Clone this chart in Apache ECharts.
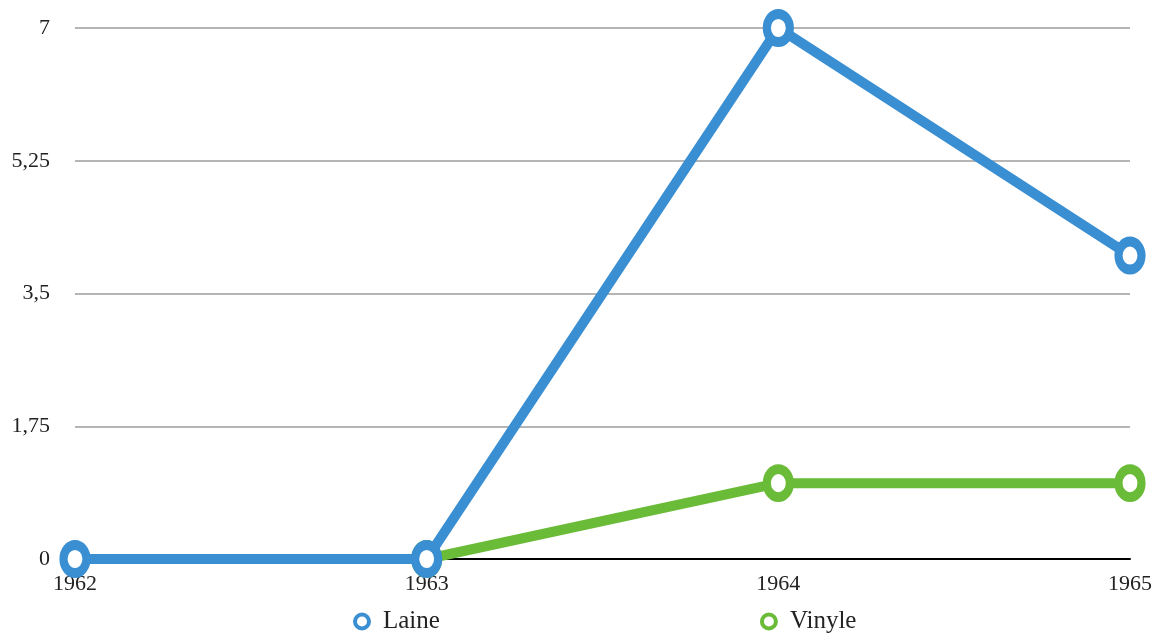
<!DOCTYPE html>
<html><head><meta charset="utf-8">
<script src="https://cdn.jsdelivr.net/npm/echarts@6/dist/echarts.min.js"></script>
<style>html,body{margin:0;padding:0;background:#fff}#c{width:1163px;height:642px}</style>
</head><body><div id="c"></div>
<script>
var categories = ['1962', '1963', '1964', '1965'];
var laine = [0, 0, 7, 4];
var vinyle = [null, 0, 1, 1];
var yTicks = [0, 1.75, 3.5, 5.25, 7];

var font = 'Liberation Serif';
var blue = '#3a8fd3', green = '#6abb38';
var chart = echarts.init(document.getElementById('c'));
chart.setOption({
  animation: false,
  backgroundColor: '#fff',
  grid: { left: 75, right: 33, top: 28, bottom: 83, containLabel: false },
  legend: {
    bottom: 3, left: 348,
    itemGap: 320, itemWidth: 16, itemHeight: 14,
    icon: 'circle',
    textStyle: { fontFamily: font, fontSize: 25, color: '#222', padding: [0, 0, 0, 8] },
    data: [
      { name: 'Laine', itemStyle: { color: '#fff', borderColor: blue, borderWidth: 4 } },
      { name: 'Vinyle', itemStyle: { color: '#fff', borderColor: green, borderWidth: 4 } }
    ]
  },
  xAxis: {
    type: 'category', data: categories, boundaryGap: false,
    axisLine: { show: true, lineStyle: { color: '#000', width: 2 } },
    axisTick: { show: false },
    axisLabel: { fontFamily: font, fontSize: 22, color: '#222', margin: 14 }
  },
  yAxis: {
    type: 'value', min: yTicks[0], max: yTicks[yTicks.length - 1], interval: yTicks[1] - yTicks[0],
    axisLine: { show: false }, axisTick: { show: false },
    axisLabel: { fontFamily: font, fontSize: 22, color: '#222', margin: 25,
      formatter: function (v) { return String(v).replace('.', ','); } },
    splitLine: { lineStyle: { color: '#b5b5b5', width: 2 } }
  },
  series: [
    { name: 'Vinyle', type: 'line', data: vinyle, z: 2,
      symbol: 'circle', symbolSize: [23, 28], showAllSymbol: true,
      lineStyle: { color: green, width: 10 },
      itemStyle: { color: '#fff', borderColor: green, borderWidth: 9 } },
    { name: 'Laine', type: 'line', data: laine, z: 3,
      symbol: 'circle', symbolSize: [23, 28], showAllSymbol: true,
      lineStyle: { color: blue, width: 10 },
      itemStyle: { color: '#fff', borderColor: blue, borderWidth: 9 } }
  ]
});
</script></body></html>
